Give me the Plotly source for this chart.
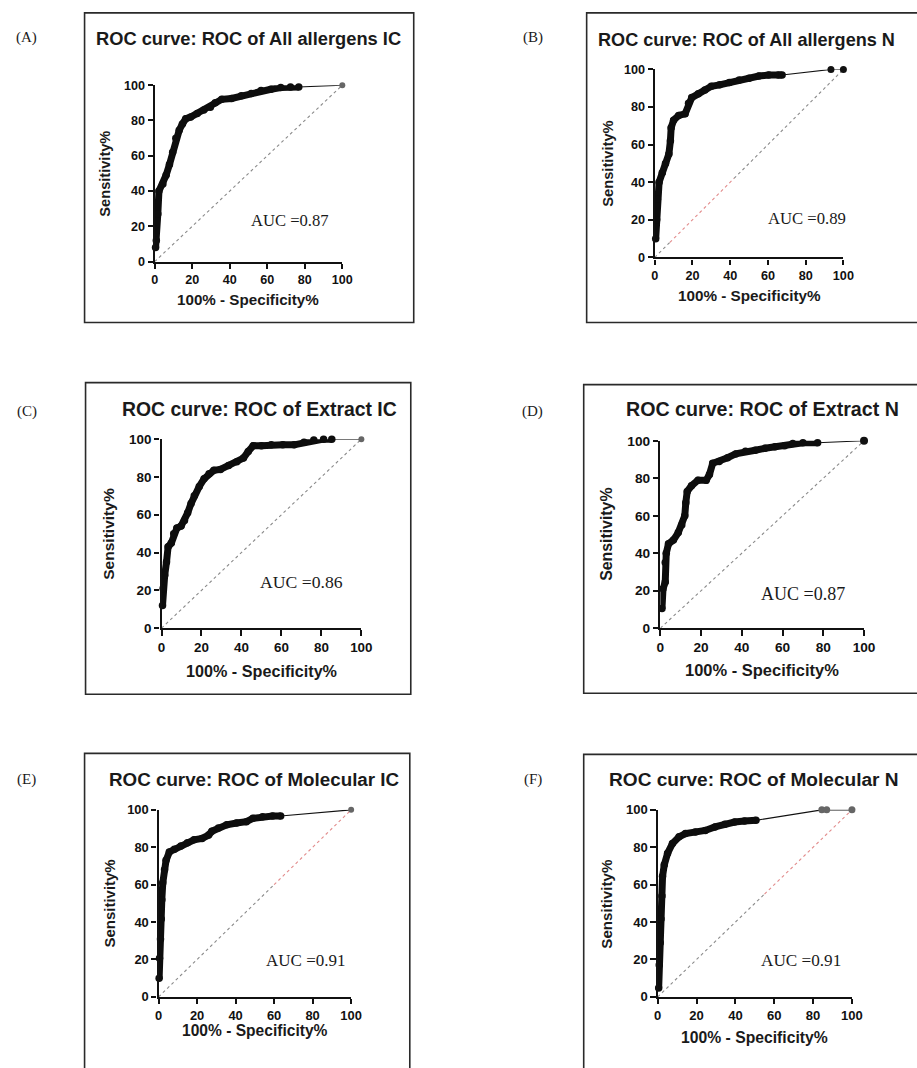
import plotly.graph_objects as go

W, H = 917, 1068

PANEL_LETTERS = ["(A)", "(B)", "(C)", "(D)", "(E)", "(F)"]
PANEL_TITLES = [
    "ROC curve: ROC of All allergens IC",
    "ROC curve: ROC of All allergens N",
    "ROC curve: ROC of Extract IC",
    "ROC curve: ROC of Extract N",
    "ROC curve: ROC of Molecular IC",
    "ROC curve: ROC of Molecular N",
]
AUC_VALUES = [0.87, 0.89, 0.86, 0.87, 0.91, 0.91]
TICKS = [0, 20, 40, 60, 80, 100]
X_TITLE = "100% - Specificity%"
Y_TITLE = "Sensitivity%"

# ROC points: x = 100% - specificity, y = sensitivity (dense part, then tail)
A_fpr = [0.5, 0.9, 1.7, 2.3, 4.4, 6.1, 7.9, 9.6, 11.3, 13.1, 14.8, 16.6, 19.2, 22.7,
         26.2, 29.7, 32.3, 35.8, 41.0, 46.2, 51.5, 56.7, 62.0, 67.2, 72.4, 76.8]
A_tpr = [8, 12, 27, 40, 44, 49, 55, 62, 70, 74.5, 78, 81, 82, 84,
         86, 87.5, 90, 92, 92.5, 94, 95.3, 97, 97.7, 98.7, 99, 99]
A_tail_fpr = [100]
A_tail_tpr = [100]

B_fpr = [0.5, 1.0, 1.4, 2.3, 4.0, 5.7, 7.5, 8.3, 8.7, 10.0, 12.7, 16.1, 17.9, 19.6,
         23.1, 26.6, 30.0, 34.4, 39.6, 44.8, 50.0, 55.2, 60.4, 65.6, 67.5]
B_tpr = [10, 20, 31, 40, 45, 50, 55, 62, 69, 73, 75.5, 76.4, 82, 85,
         87, 89, 91, 91.8, 93, 94.4, 95.3, 96.5, 97, 97, 97]
B_tail_fpr = [93.4, 100]
B_tail_tpr = [100, 100]

C_fpr = [0.5, 0.8, 1.6, 2.5, 3.3, 4.9, 6.1, 7.7, 9.8, 11.5, 13.1, 14.8, 16.4, 18.9,
         21.3, 23.8, 26.2, 29.5, 33.6, 37.7, 41.0, 43.4, 45.9, 50.0, 54.9, 60.7,
         66.4, 71.3, 76.2, 81.1, 85.2]
C_tpr = [12, 21, 28, 35, 43, 45, 50, 53, 54, 57, 61, 66, 70, 75,
         79, 81.7, 83.5, 84, 86, 88, 90, 93.5, 96.5, 96.5, 97, 97,
         97, 98.3, 99.5, 100, 100]
C_tail_fpr = [100]
C_tail_tpr = [100]

D_fpr = [0.8, 1.3, 2.4, 2.4, 2.9, 4.0, 6.4, 8.8, 10.5, 12.0, 12.5, 13.2, 15.3, 18.5,
         22.5, 24.1, 25.7, 28.9, 33.0, 37.0, 41.8, 46.6, 51.4, 56.3, 61.0, 65.0,
         70.0, 77.2]
D_tpr = [10.5, 21, 24.6, 35, 40, 45, 47, 51, 55, 60, 67, 73, 76, 79,
         79, 82, 88, 89, 91, 93, 94.4, 95, 96, 96.8, 97.4, 98.6,
         99, 99]
D_tail_fpr = [100]
D_tail_tpr = [100]

E_fpr = [0.3, 0.5, 1.0, 1.4, 1.7, 2.2, 3.1, 3.9, 5.6, 8.2, 11.6, 15.0, 18.4, 22.6,
         26.0, 27.7, 31.1, 35.4, 40.5, 45.6, 49.0, 54.0, 59.2, 63.4]
E_tpr = [10, 20.6, 31, 41.6, 52, 61, 68, 73, 77.5, 79, 80.7, 82.4, 84, 84.7,
         86.5, 88.6, 90.3, 92, 93, 93.7, 95.5, 96.3, 96.7, 96.7]
E_tail_fpr = [100]
E_tail_tpr = [100]

F_fpr = [0.5, 0.8, 1.3, 1.7, 2.2, 2.5, 3.4, 5.1, 7.6, 11.0, 14.3, 19.4, 24.5, 29.5,
         34.6, 39.6, 44.7, 50.6]
F_tpr = [4.7, 17, 29, 41.6, 54, 64.5, 70.7, 76.8, 82, 85.6, 87.3, 88.2, 89, 90.9,
         92.3, 93.5, 94, 94.4]
F_tail_fpr = [84.5, 87, 100]
F_tail_tpr = [100, 100, 100]

# chance line, with the stretch drawn in pink (from, to) per panel
DIAG = [0, 100]
PINK_SPANS = [None, (8, 42), None, None, (60, 100), (55, 100)]

CURVES = [
    (A_fpr, A_tpr, A_tail_fpr, A_tail_tpr),
    (B_fpr, B_tpr, B_tail_fpr, B_tail_tpr),
    (C_fpr, C_tpr, C_tail_fpr, C_tail_tpr),
    (D_fpr, D_tpr, D_tail_fpr, D_tail_tpr),
    (E_fpr, E_tpr, E_tail_fpr, E_tail_tpr),
    (F_fpr, F_tpr, F_tail_fpr, F_tail_tpr),
]

# panel geometry in pixels
PANELS = [
    dict(ax=(153.3, 344.3, 258.3, 79.3), box=(82, 6, 417, 320), title=(249, 32, 18.3),
         xt_y=297, yt_x=103, auc=(291, 217), letter=(23, 31), tail_col="#666666", tail_size=6),
    dict(ax=(662.3, 854.3, 254, 63.3), box=(593, 6, 935, 320), title=(756, 33, 18.1),
         xt_y=293, yt_x=615, auc=(817, 215), letter=(538, 31), tail_col="#111111", tail_size=7),
    dict(ax=(160.3, 363.7, 630, 438.3), box=(83, 381, 414, 697), title=(260.5, 408, 19.4),
         xt_y=673, yt_x=107, auc=(303, 583), letter=(23, 410), tail_col="#666666", tail_size=6),
    dict(ax=(668, 875.3, 630, 440), box=(590, 383, 935, 696), title=(771.5, 408, 19.65),
         xt_y=672, yt_x=613, auc=(813, 595), letter=(538, 410), tail_col="#111111", tail_size=8),
    dict(ax=(157.3, 353.3, 1004, 814.3), box=(82, 757, 413, 1090), title=(255, 783, 18.8),
         xt_y=1038, yt_x=107, auc=(307.5, 967), letter=(23, 783), tail_col="#666666", tail_size=6),
    dict(ax=(665.3, 863, 1004, 814.3), box=(590, 758, 935, 1090), title=(763, 783, 19.1),
         xt_y=1045, yt_x=613, auc=(811, 967), letter=(538, 783), tail_col="#666666", tail_size=7),
]


def px(x):
    return x / W


def py(y):
    return 1 - y / H


SANS = "Liberation Sans, Arial, sans-serif"
SERIF = "Liberation Serif, Times New Roman, serif"

fig = go.Figure()
shapes = []
annotations = []
layout_axes = {}

for i, (geo, (fx, fy, tx, ty)) in enumerate(zip(PANELS, CURVES)):
    n = i + 1
    xa = "x" if n == 1 else f"x{n}"
    ya = "y" if n == 1 else f"y{n}"
    x0, x1, y0, y1 = geo["ax"]
    s = (x1 - x0) / 191.0

    # chance diagonal
    span = PINK_SPANS[i]
    if span is None:
        segs = [(DIAG, "#8a8a8a")]
    else:
        a, b = span
        segs = [([DIAG[0], a], "#8a8a8a"), ([a, b], "#e28b8b"), ([b, DIAG[1]], "#8a8a8a")]
    for seg, col in segs:
        if seg[1] > seg[0]:
            fig.add_trace(go.Scatter(x=seg, y=seg, mode="lines", xaxis=xa, yaxis=ya,
                                     line=dict(color=col, width=1.1, dash="dot"),
                                     hoverinfo="skip", showlegend=False))

    # thin connector from the last dense point through the tail points
    fig.add_trace(go.Scatter(x=[fx[-1]] + tx, y=[fy[-1]] + ty, mode="lines", xaxis=xa, yaxis=ya,
                             line=dict(color="#111111", width=1.1),
                             hoverinfo="skip", showlegend=False))
    fig.add_trace(go.Scatter(x=tx, y=ty, mode="markers", xaxis=xa, yaxis=ya,
                             marker=dict(color=geo["tail_col"], size=geo["tail_size"]),
                             cliponaxis=False, showlegend=False))

    # dense ROC points drawn as a heavy band of dots
    fig.add_trace(go.Scatter(x=fx, y=fy, mode="lines+markers", xaxis=xa, yaxis=ya,
                             line=dict(color="#0d0d0d", width=7),
                             marker=dict(color="#0d0d0d", size=7.5),
                             cliponaxis=False, showlegend=False))

    axis_common = dict(range=[0, 100], tickvals=TICKS, ticktext=[str(t) for t in TICKS],
                       showline=True, linecolor="#111111", linewidth=2.2,
                       ticks="outside", ticklen=5 * s, tickwidth=2, tickcolor="#111111",
                       tickfont=dict(family=SANS, size=12.6 * s, color="#111111", weight="bold"),
                       showgrid=False, zeroline=False, fixedrange=True)
    layout_axes["xaxis" if n == 1 else f"xaxis{n}"] = dict(
        axis_common, domain=[px(x0), px(x1)], anchor=ya)
    layout_axes["yaxis" if n == 1 else f"yaxis{n}"] = dict(
        axis_common, domain=[py(y0), py(y1)], anchor=xa)

    bx0, by0, bx1, by1 = geo["box"]
    shapes.append(dict(type="rect", xref="paper", yref="paper",
                       x0=px(bx0), x1=px(bx1), y0=py(by1), y1=py(by0),
                       line=dict(color="#2a2a2a", width=1.6), layer="below"))

    tx_, ty_, tsize = geo["title"]
    annotations.append(dict(text=PANEL_TITLES[i], x=px(tx_), y=py(ty_), xref="paper", yref="paper",
                            showarrow=False, xanchor="center", yanchor="middle",
                            font=dict(family=SANS, size=tsize, color="#1a1a1a", weight="bold")))
    annotations.append(dict(text=X_TITLE, x=px((x0 + x1) / 2), y=py(geo["xt_y"]),
                            xref="paper", yref="paper", showarrow=False,
                            xanchor="center", yanchor="middle",
                            font=dict(family=SANS, size=15.2 * s, color="#1a1a1a", weight="bold")))
    annotations.append(dict(text=Y_TITLE, x=px(geo["yt_x"]), y=py((y0 + y1) / 2),
                            xref="paper", yref="paper", showarrow=False, textangle=-90,
                            xanchor="center", yanchor="middle",
                            font=dict(family=SANS, size=14.6 * s, color="#1a1a1a", weight="bold")))
    ax_, ay_ = geo["auc"]
    annotations.append(dict(text=f"AUC ={AUC_VALUES[i]:.2f}", x=px(ax_), y=py(ay_),
                            xref="paper", yref="paper", showarrow=False,
                            xanchor="center", yanchor="middle",
                            font=dict(family=SERIF, size=16.6 * s, color="#1a1a1a")))
    lx, ly = geo["letter"]
    annotations.append(dict(text=PANEL_LETTERS[i], x=px(lx), y=py(ly),
                            xref="paper", yref="paper", showarrow=False,
                            xanchor="center", yanchor="middle",
                            font=dict(family=SERIF, size=15, color="#1a1a1a")))

fig.update_layout(
    width=W, height=H,
    margin=dict(l=0, r=0, t=0, b=0),
    paper_bgcolor="white", plot_bgcolor="rgba(0,0,0,0)",
    showlegend=False,
    shapes=shapes,
    annotations=annotations,
    **layout_axes,
)

fig.write_html("out.html")
